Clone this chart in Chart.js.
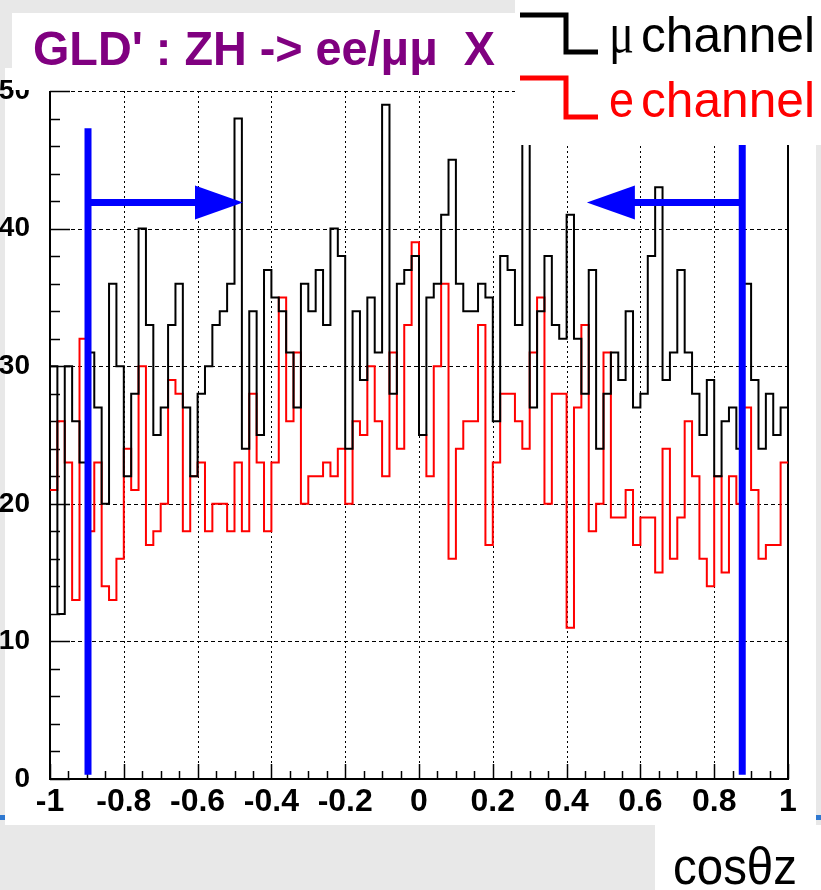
<!DOCTYPE html>
<html><head><meta charset="utf-8">
<script src="https://cdn.jsdelivr.net/npm/chart.js@4.4.1/dist/chart.umd.min.js"></script>
<style>html,body{margin:0;padding:0;background:#e8e8e8;}#c{display:block;}</style>
</head><body>
<canvas id="c" width="821" height="890"></canvas>
<script>
// ---- data ----
const binRange = [-1, 1];
const muCounts = [
  30,12,30,26,23,31,27,20,36,30,22,28,40,
  33,25,27,33,36,27,22,28,30,33,34,36,
  48,24,34,25,37,35,34,31,27,36,34,37,33,
  40,38,24,34,29,35,31,49,28,36,37,38,
  25,35,36,41,45,36,34,34,36,35,26,38,37,
  33,47,27,34,38,33,32,41,32,28,37,24,28,
  31,29,34,27,28,38,43,29,31,37,31,28,25,29,
  22,26,27,24,36,29,24,28,25,27
];
const eCounts = [
  21,26,23,13,32,18,23,14,13,16,24,21,30,
  17,18,20,29,28,18,22,23,18,20,20,18,
  23,18,28,23,18,23,35,26,31,20,22,22,23,
  22,24,20,26,25,30,26,22,31,24,33,39,
  25,22,30,36,16,24,26,26,33,17,23,28,28,
  26,24,31,35,20,28,28,11,27,33,18,20,31,
  19,19,21,17,19,19,15,24,16,19,26,22,16,14,
  22,15,22,20,27,21,16,17,17,23
];
const xTickValues = [-1,-0.8,-0.6,-0.4,-0.2,0,0.2,0.4,0.6,0.8,1];
const xTickLabels = ['-1','-0.8','-0.6','-0.4','-0.2','0','0.2','0.4','0.6','0.8','1'];
const yTickValues = [0,10,20,30,40,50];
const yTickLabels = ['0','10','20','30','40','50'];
const cutLines = [-0.897, 0.876];
const arrowTips = [-0.477, 0.455];
const arrowLevel = 41.9;
const cutLineTop = 47.3;
const cutLineBottom = 0.3;
const titleText = "GLD' : ZH -> ee/\u03bc\u03bc  X";
const legendLabels = ['\u03bc channel', 'e channel'];
const legendColors = ['#000000', '#ff0000'];
const xAxisTitle = 'cos\u03b8z';

// ---- build step outlines from bin edges ----
const nBins = muCounts.length;
const edges = [];
for (let k = 0; k <= nBins; k++) edges.push(binRange[0] + (binRange[1] - binRange[0]) * k / nBins);
const stepPoints = counts => edges.map((x, k) => ({x: x, y: counts[Math.min(k, counts.length - 1)]}));

function fitText(ctx, text, x, baseline, width, font, color) {
  ctx.save();
  ctx.font = font; ctx.fillStyle = color; ctx.textBaseline = 'alphabetic'; ctx.textAlign = 'left';
  const w = ctx.measureText(text).width;
  ctx.translate(x, baseline); ctx.scale(width / w, 1);
  ctx.fillText(text, 0, 0);
  ctx.restore();
}

const deco = {
  id: 'deco',
  beforeDraw(chart) {
    const ctx = chart.ctx;
    ctx.save();
    ctx.fillStyle = '#e8e8e8'; ctx.fillRect(0, 0, 821, 890);
    ctx.fillStyle = '#2f78d0'; ctx.fillRect(0, 815, 6, 5); ctx.fillRect(815, 815, 6, 5);
    ctx.fillStyle = '#ffffff'; ctx.fillRect(5, 68, 811, 757);
    ctx.restore();
  },
  beforeDatasetsDraw(chart) {
    const ctx = chart.ctx, xs = chart.scales.x, ys = chart.scales.y, a = chart.chartArea;
    ctx.save();
    ctx.strokeStyle = '#000'; ctx.lineWidth = 1;
    ctx.setLineDash([4, 3]);
    yTickValues.forEach(v => {
      if (v === 0) return;
      const y = Math.round(ys.getPixelForValue(v)) + 0.5;
      ctx.beginPath(); ctx.moveTo(a.left, y); ctx.lineTo(a.right, y); ctx.stroke();
    });
    ctx.setLineDash([2, 3]);
    xTickValues.forEach(v => {
      if (v === binRange[0] || v === binRange[1]) return;
      const x = Math.round(xs.getPixelForValue(v)) + 0.5;
      ctx.beginPath(); ctx.moveTo(x, a.top); ctx.lineTo(x, a.bottom); ctx.stroke();
    });
    ctx.setLineDash([]);
    ctx.lineWidth = 2;
    ctx.beginPath();
    ctx.moveTo(a.left, a.top); ctx.lineTo(a.left, a.bottom); ctx.lineTo(a.right, a.bottom); ctx.lineTo(a.right, a.top);
    ctx.stroke();
    ctx.lineWidth = 1.5;
    for (let v = 0; v <= 50; v += 2) {
      const y = Math.round(ys.getPixelForValue(v)) + 0.5;
      const len = (v % 10 === 0) ? 20 : 10;
      ctx.beginPath(); ctx.moveTo(a.left, y); ctx.lineTo(a.left + len, y); ctx.stroke();
    }
    for (let i = 0; i <= 40; i++) {
      const v = -1 + i * 0.05;
      const x = Math.round(xs.getPixelForValue(v)) + 0.5;
      const len = (i % 4 === 0) ? 15 : 8;
      ctx.beginPath(); ctx.moveTo(x, a.bottom); ctx.lineTo(x, a.bottom - len); ctx.stroke();
    }
    ctx.restore();
  },
  afterDraw(chart) {
    const ctx = chart.ctx, xs = chart.scales.x, ys = chart.scales.y;
    ctx.save();
    ctx.strokeStyle = '#0000ff'; ctx.fillStyle = '#0000ff'; ctx.lineWidth = 7; ctx.lineCap = 'butt';
    const yT = ys.getPixelForValue(cutLineTop), yB = ys.getPixelForValue(cutLineBottom), yA = ys.getPixelForValue(arrowLevel);
    cutLines.forEach((c, i) => {
      const xc = xs.getPixelForValue(c), xt = xs.getPixelForValue(arrowTips[i]);
      ctx.beginPath(); ctx.moveTo(xc, yT); ctx.lineTo(xc, yB); ctx.stroke();
      const dir = Math.sign(xt - xc), headLen = 48, headHalf = 17;
      ctx.beginPath(); ctx.moveTo(xc, yA); ctx.lineTo(xt - dir * headLen + dir * 2, yA); ctx.stroke();
      ctx.beginPath(); ctx.moveTo(xt, yA); ctx.lineTo(xt - dir * headLen, yA - headHalf); ctx.lineTo(xt - dir * headLen, yA + headHalf); ctx.closePath(); ctx.fill();
    });
    ctx.fillStyle = '#ffffff';
    ctx.fillRect(12, 13, 503, 77);
    ctx.fillRect(515, 0, 306, 145);
    ctx.fillRect(655, 825, 166, 65);
    ctx.restore();
    fitText(ctx, titleText, 33, 65, 462, 'bold 48px "Liberation Sans Narrow", "Liberation Sans", Arial, sans-serif', '#800080');
    ctx.save();
    ctx.lineWidth = 5; ctx.lineJoin = 'miter'; ctx.lineCap = 'butt';
    const rows = [[15, 52], [78, 117]];
    legendLabels.forEach((lab, i) => {
      const [t, b] = rows[i];
      ctx.strokeStyle = legendColors[i];
      ctx.beginPath(); ctx.moveTo(520, t); ctx.lineTo(566, t); ctx.lineTo(566, b); ctx.lineTo(598, b); ctx.stroke();
      const sp = lab.indexOf(' ');
      const sym = lab.slice(0, sp), rest = lab.slice(sp + 1);
      const symFont = i === 0 ? '56px "Liberation Serif", serif' : '50px "Liberation Sans", Arial, sans-serif';
      fitText(ctx, sym, 609, b, 25, symFont, legendColors[i]);
      fitText(ctx, rest, 641, b, 174, '50px "Liberation Sans", Arial, sans-serif', legendColors[i]);
    });
    ctx.restore();
    fitText(ctx, xAxisTitle, 673, 884, 124, '52px "Liberation Sans", Arial, sans-serif', '#000000');
  }
};

new Chart(document.getElementById('c'), {
  type: 'line',
  data: {
    datasets: [
      {label: legendLabels[0], data: stepPoints(muCounts), borderColor: legendColors[0], borderWidth: 2, stepped: true, pointRadius: 0, fill: false},
      {label: legendLabels[1], data: stepPoints(eCounts), borderColor: legendColors[1], borderWidth: 2, stepped: true, pointRadius: 0, fill: false}
    ]
  },
  options: {
    responsive: false, animation: false, devicePixelRatio: 1,
    layout: {padding: {left: 0, top: 91, right: 33, bottom: 0}},
    plugins: {legend: {display: false}, tooltip: {enabled: false}, title: {display: false}},
    scales: {
      x: {
        type: 'linear', min: binRange[0], max: binRange[1],
        afterFit: s => { s.height = 111; },
        afterBuildTicks: s => { s.ticks = xTickValues.map(v => ({value: v})); },
        grid: {display: false}, border: {display: false},
        ticks: {
          autoSkip: false, maxRotation: 0, padding: -4, color: '#000',
          font: {family: '"Liberation Sans", Arial, sans-serif', size: 32, weight: 'bold'},
          callback: (v, i) => xTickLabels[i]
        }
      },
      y: {
        type: 'linear', min: 0, max: 50,
        afterFit: s => { s.width = 50; },
        afterBuildTicks: s => { s.ticks = yTickValues.map(v => ({value: v})); },
        grid: {display: false}, border: {display: false},
        ticks: {
          padding: 12, color: '#000',
          font: {family: '"Liberation Sans", Arial, sans-serif', size: 28, weight: 'bold'},
          callback: (v, i) => yTickLabels[i]
        }
      }
    }
  },
  plugins: [deco]
});
</script>
</body></html>
